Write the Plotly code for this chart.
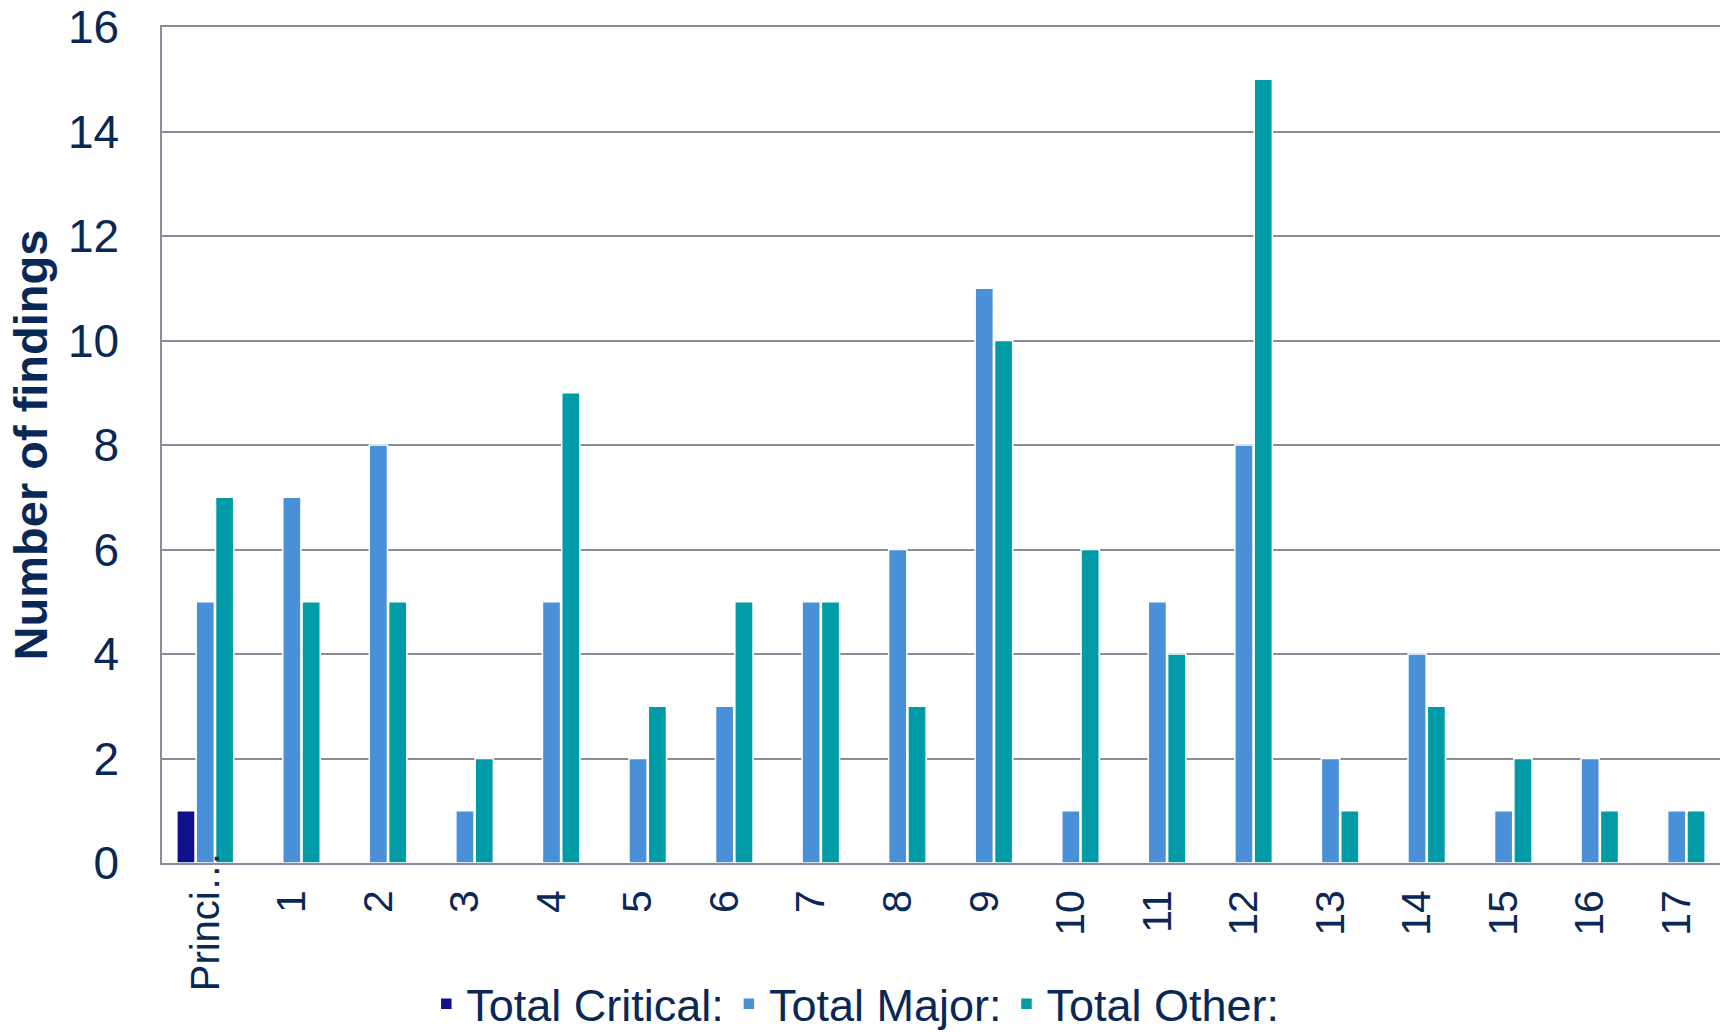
import plotly.graph_objects as go

categories = ["Princi…", "1", "2", "3", "4", "5", "6", "7", "8", "9",
              "10", "11", "12", "13", "14", "15", "16", "17"]
total_critical = [1, 0, 0, 0, 0, 0, 0, 0, 0, 0, 0, 0, 0, 0, 0, 0, 0, 0]
total_major = [5, 7, 8, 1, 5, 2, 3, 5, 6, 11, 1, 5, 8, 2, 4, 1, 2, 1]
total_other = [7, 5, 5, 2, 9, 3, 5, 5, 3, 10, 6, 4, 15, 1, 3, 2, 1, 1]
series_names = ["Total Critical:", "Total Major:", "Total Other:"]
colors = ["#10108c", "#4a90d9", "#009ba6"]
text_color = "#0a2856"

fig = go.Figure()
for name, vals, col in zip(series_names, [total_critical, total_major, total_other], colors):
    fig.add_trace(go.Bar(
        x=categories, y=vals, name=name,
        marker=dict(color=col, line=dict(color="white", width=1.5)),
    ))

# first category label drawn as annotation (it overhangs the axis in the original)
fig.add_annotation(
    x=categories[0], xref="x", y=0, yref="paper",
    text=categories[0], textangle=-90, showarrow=False,
    xanchor="center", yanchor="top", yshift=14,
    font=dict(size=40, color=text_color, family="Liberation Sans, Arial, sans-serif"),
)

fig.update_layout(
    width=1725, height=1036,
    barmode="group", bargap=0.33, bargroupgap=0.06,
    plot_bgcolor="white", paper_bgcolor="white",
    margin=dict(l=162, r=5, t=27, b=173, autoexpand=False),
    font=dict(family="Liberation Sans, Arial, sans-serif", color=text_color),
    showlegend=True,
    legend=dict(
        orientation="h", x=0.445, xanchor="center",
        yref="container", y=0.031, yanchor="middle",
        font=dict(size=45, family="Liberation Sans Narrow, Arial Narrow, Liberation Sans, Arial", color=text_color),
        traceorder="normal",
    ),
)
fig.update_xaxes(
    type="category", tickangle=-90, automargin=False,
    tickvals=categories, ticktext=[""] + categories[1:],
    tickfont=dict(size=41, color=text_color),
    showline=True, linecolor="#8a8d99", linewidth=1.5, mirror=True,
    ticks="outside", ticklen=9, tickcolor="rgba(0,0,0,0)",
    showgrid=False,
)
fig.update_yaxes(
    range=[0, 16], dtick=2, automargin=False,
    tickfont=dict(size=46, color=text_color),
    ticklabeloverflow="allow",
    showline=True, linecolor="#8a8d99", linewidth=1.5,
    showgrid=True, gridcolor="#8a8d99", gridwidth=1.5,
    ticks="outside", ticklen=32, tickcolor="rgba(0,0,0,0)",
    zeroline=False,
    title=dict(text="<b>Number of findings</b>", font=dict(size=47, color=text_color), standoff=5),
)
fig.write_html("out.html", config={"displayModeBar": False},
               post_script="document.body.style.margin='0';document.body.style.overflow='hidden';")
